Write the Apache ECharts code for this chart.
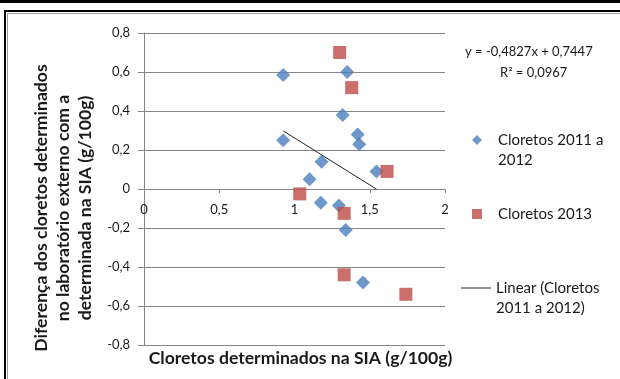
<!DOCTYPE html>
<html>
<head>
<meta charset="utf-8">
<script src="https://cdn.jsdelivr.net/npm/echarts@6/dist/echarts.min.js"></script>
<style>html,body{margin:0;padding:0;background:#fff}#c{width:620px;height:379px}</style>
</head>
<body>
<div id="c"></div>
<script>
// Data
const blueName = 'Cloretos 2011 a 2012';
const blueX = [0.925, 1.35, 1.32, 0.925, 1.42, 1.43, 1.18, 1.10, 1.545, 1.175, 1.295, 1.34, 1.455];
const blueY = [0.585, 0.60, 0.38, 0.25, 0.28, 0.23, 0.14, 0.05, 0.09, -0.07, -0.085, -0.21, -0.48];

const redName = 'Cloretos 2013';
const redX = [1.30, 1.38, 1.615, 1.035, 1.33, 1.33, 1.74];
const redY = [0.70, 0.52, 0.09, -0.025, -0.125, -0.44, -0.54];

const trendName = 'Linear (Cloretos 2011 a 2012)';
const trendX = [0.925, 1.545];
const trendY = [0.298, -0.001];

const equationText = 'y = -0,4827x + 0,7447';
const r2Text = 'R² = 0,0967';

const xTicks = [0, 0.5, 1, 1.5, 2];
const yTicks = [-0.8, -0.6, -0.4, -0.2, 0, 0.2, 0.4, 0.6, 0.8];

const xTitle = 'Cloretos determinados na SIA (g/100g)';
const yTitle = 'Diferença dos cloretos determinados\nno laboratório externo com a\ndeterminada na SIA (g/100g)';

const legendLabels = {};
legendLabels[blueName] = '\n{g|}Cloretos 2011 a\n{g|}2012';
legendLabels[redName] = '{g|}Cloretos 2013';
legendLabels[trendName] = '\nLinear (Cloretos\n2011 a 2012)';

const pairs = (xs, ys) => xs.map((x, i) => [x, ys[i]]);
const fmt = v => (Math.abs(v) < 1e-9 ? '0' : String(+v.toFixed(1)).replace('.', ','));

const FONT = 'Lato, "Open Sans", sans-serif';
const TXT = '#1a1a1a';

const legendText = {
  fontFamily: FONT, fontSize: 15, color: TXT, lineHeight: 20,
  rich: { g: { width: 11, height: 20, lineHeight: 20 } }
};

const chart = echarts.init(document.getElementById('c'), null, { renderer: 'canvas' });
chart.setOption({
  animation: false,
  backgroundColor: '#fff',
  grid: { left: 144, right: 175, top: 33, bottom: 34, containLabel: false, outerBoundsMode: 'none' },
  xAxis: {
    type: 'value', min: xTicks[0], max: xTicks[xTicks.length - 1], interval: 0.5,
    axisLine: { onZero: false, lineStyle: { color: '#868686', width: 1 } },
    axisTick: { show: true, length: 4, lineStyle: { color: '#868686' } },
    axisLabel: { margin: 14, fontFamily: FONT, fontSize: 13, color: TXT, formatter: v => String(v).replace('.', ',') },
    splitLine: { show: false },
    name: xTitle, nameLocation: 'middle', nameGap: 160,
    nameTextStyle: { fontFamily: FONT, fontSize: 17.6, fontWeight: 'bold', color: TXT, padding: [0, 0, 0, 12] }
  },
  yAxis: {
    type: 'value', min: yTicks[0], max: yTicks[yTicks.length - 1], interval: 0.2,
    axisLine: { show: true, onZero: false, lineStyle: { color: '#868686', width: 1 } },
    axisTick: { show: true, length: 6, lineStyle: { color: '#868686' } },
    axisLabel: { margin: 14, fontFamily: FONT, fontSize: 13, color: TXT, formatter: fmt },
    splitLine: { show: true, lineStyle: { color: '#868686', width: 1 } },
    name: yTitle, nameLocation: 'middle', nameGap: 48, nameRotate: 90,
    nameTextStyle: { fontFamily: FONT, fontSize: 17.6, fontWeight: 'bold', color: TXT, lineHeight: 22, align: 'center', padding: [0, 38, 0, 0] }
  },
  legend: [
    { orient: 'vertical', left: 467, top: 105, itemWidth: 10, itemHeight: 10, selectedMode: false,
      data: [{ name: blueName, icon: 'diamond' }], textStyle: legendText, formatter: n => legendLabels[n] },
    { orient: 'vertical', left: 467, top: 199, itemWidth: 10, itemHeight: 10, selectedMode: false,
      data: [{ name: redName, icon: 'rect' }], textStyle: legendText, formatter: n => legendLabels[n] },
    { orient: 'vertical', left: 456, top: 253, itemWidth: 30, itemHeight: 1, selectedMode: false,
      data: [{ name: trendName, icon: 'rect' }], textStyle: legendText, formatter: n => legendLabels[n] }
  ],
  graphic: [
    { type: 'rect', shape: { x: 0, y: 0, width: 620, height: 3 }, style: { fill: '#000' }, silent: true },
    { type: 'rect', shape: { x: 5, y: 11, width: 640, height: 400 }, style: { fill: 'none', stroke: '#000', lineWidth: 2 }, silent: true },
    { type: 'rect', shape: { x: 7.5, y: 13.5, width: 640, height: 400 }, style: { fill: 'none', stroke: '#9a9a9a', lineWidth: 1 }, silent: true },
    { type: 'text', left: 465, top: 45, style: { text: equationText, fontFamily: FONT, fontSize: 13, fill: TXT } },
    { type: 'text', left: 500, top: 66, style: { text: r2Text, fontFamily: FONT, fontSize: 13, fill: TXT } }
  ],
  series: [
    {
      name: blueName, type: 'scatter', symbol: 'diamond', symbolSize: 14,
      itemStyle: { color: '#4A7EBB' }, data: pairs(blueX, blueY), z: 3
    },
    {
      name: redName, type: 'scatter', symbol: 'rect', symbolSize: 13,
      itemStyle: { color: '#BE4B48' }, data: pairs(redX, redY), z: 4
    },
    {
      name: trendName, type: 'line', symbol: 'none', showSymbol: false,
      lineStyle: { color: '#222', width: 1 }, itemStyle: { color: '#222' },
      data: pairs(trendX, trendY), z: 5
    }
  ]
});

// Place the x axis on y = 0, using the library's own y scale
const yZeroPx = chart.convertToPixel({ yAxisIndex: 0 }, 0);
const yMinPx = chart.convertToPixel({ yAxisIndex: 0 }, yTicks[0]);
const shift = yZeroPx - yMinPx;
chart.setOption({ xAxis: { offset: shift } });
</script>
</body>
</html>
